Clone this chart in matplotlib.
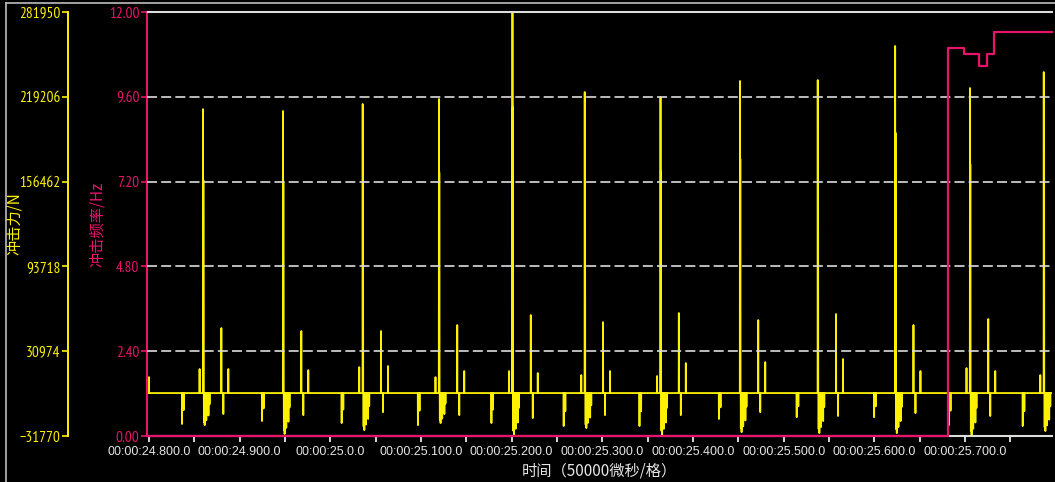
import numpy as np
import matplotlib.pyplot as plt
from matplotlib.lines import Line2D

# --- data ---
# impact frequency (Hz), step line
freq_t = [24.7978, 25.6810, 25.6990, 25.7154, 25.7240, 25.7320, 25.7960]
freq_v = [0.0, 10.99, 10.80, 10.48, 10.80, 11.44, 11.44]

# one entry per impact cycle: main peak time (s) and force values (N)
peak_t = [24.8596, 24.9478, 25.0357, 25.1198, 25.2009, 25.2806,
          25.3642, 25.4518, 25.5376, 25.6230, 25.7055, 25.7869]
peak_v = [210100, 208700, 213900, 217600, 281950, 222700,
          219000, 230900, 231600, 256800, 225700, 237500]
pre_dip = [-22900, -20700, -22200, -23700, -22200, -24400,
           -24400, -19200, -17800, -17800, -23700, -24400]
pre_spike = [17800, 0, 19200, 11800, 16300, 13300,
             12600, 0, 0, 0, 18500, 13300]
post_dip = [-23700, -30300, -27400, -22200, -31100, -25900,
            -31100, -28900, -29600, -29600, -31100, -28100]
spike2 = [48100, 45900, 45900, 50300, 57700, 52500,
          59200, 54000, 58500, 50300, 54800, 0]
dip2 = [-15500, -16300, -14100, -16300, -18500, -16300,
        -16300, -14100, -17000, -14800, -17000, 0]
spike3 = [17800, 17000, 20000, 16300, 14800, 16300,
          22200, 22900, 25200, 16300, 16300, 0]
lead_t, lead_v = 24.8000, 11800   # tail of the cycle before the window

# offsets inside a cycle (s) and shape of the dip clusters
off_pre_dip = [(-0.0232, 1.0), (-0.0214, 0.55)]
off_pre_spike = -0.0038
off_main2 = (0.0004, 0.75)
off_post = [(0.0010, 0.9), (0.0018, 1.0), (0.0027, 0.7), (0.0036, 0.85),
            (0.0048, 0.55), (0.0060, 0.7), (0.0072, 0.35)]
off_spike2 = 0.0202
off_dip2 = 0.0224
off_spike3 = 0.0279

force_ticks = [-31770, 30974, 93718, 156462, 219206, 281950]
freq_ticks = [0.0, 2.4, 4.8, 7.2, 9.6, 12.0]
x_major = [24.8, 24.9, 25.0, 25.1, 25.2, 25.3, 25.4, 25.5, 25.6, 25.7]
x_minor = [24.85, 24.95, 25.05, 25.15, 25.25, 25.35, 25.45, 25.55, 25.65, 25.75]
x_labels = ["00:00:24.800.0", "00:00:24.900.0", "00:00:25.0.0", "00:00:25.100.0",
            "00:00:25.200.0", "00:00:25.300.0", "00:00:25.400.0", "00:00:25.500.0",
            "00:00:25.600.0", "00:00:25.700.0"]
x_min, x_max = 24.7978, 25.7960

# --- build the force trace from the events ---
events = [(lead_t, lead_v)]
for i in range(len(peak_t)):
    t0 = peak_t[i]
    events.append((t0, peak_v[i]))
    events.append((t0 + off_main2[0], peak_v[i] * off_main2[1]))
    for o, f in off_pre_dip:
        events.append((t0 + o, pre_dip[i] * f))
    if pre_spike[i]:
        events.append((t0 + off_pre_spike, pre_spike[i]))
    for o, f in off_post:
        events.append((t0 + o, post_dip[i] * f))
    if spike2[i]:
        events.append((t0 + off_spike2, spike2[i]))
    if dip2[i]:
        events.append((t0 + off_dip2, dip2[i]))
    if spike3[i]:
        events.append((t0 + off_spike3, spike3[i]))
events.sort()

w = 0.00015
sig_t = [x_min]
sig_v = [0]
for t, v in events:
    if t < x_min or t > x_max:
        continue
    sig_t += [t - w, t, t + w]
    sig_v += [0, v, 0]
sig_t.append(x_max)
sig_v.append(0)

# --- drawing ---
magenta = '#E8146C'
yellow = '#FFF200'
grey = '#dcdcdc'
num_font = ['PT Sans Narrow', 'Archivo Narrow', 'Roboto Condensed', 'Liberation Sans']
cjk_font = ['Noto Sans CJK SC', 'DejaVu Sans']

fig = plt.figure(figsize=(10.55, 4.82), dpi=100, facecolor='black')
ax = fig.add_axes([147 / 1055, 46 / 482, 905 / 1055, 424 / 482])
ax2 = ax.twinx()
ax.set_zorder(ax2.get_zorder() + 1)
ax.patch.set_visible(False)

# force trace
ax2.plot(sig_t, sig_v, color=yellow, lw=1.3)
ax2.set_ylim(-31770, 281950)
ax2.yaxis.set_ticks_position('left')
ax2.yaxis.set_label_position('left')
ax2.set_yticks(force_ticks)
ax2.set_yticklabels([str(v).replace('-', '\u2212') for v in force_ticks])
for s in ['top', 'bottom', 'right']:
    ax2.spines[s].set_visible(False)
ax2.spines['left'].set_visible(True)
ax2.spines['left'].set_position(('axes', -79 / 905))
ax2.spines['left'].set_color(yellow)
ax2.spines['left'].set_linewidth(1.4)
ax2.tick_params(axis='y', colors=yellow, length=4.5, width=1.2, pad=1,
                labelsize=11, labelfontfamily=num_font)
ax2.set_ylabel("冲击力/N", color=yellow, fontsize=11, family=cjk_font)
ax2.yaxis.label.set_va('center')
ax2.yaxis.label.set_ha('center')
ax2.yaxis.set_label_coords(-133 / 905, 0.5)

# frequency axis
ax.step(freq_t, freq_v, where='post', color=magenta, lw=1.6, clip_on=False, zorder=5)
ax.set_ylim(0, 12)
ax.set_yticks(freq_ticks)
ax.set_yticklabels([f"{v:.2f}" for v in freq_ticks])
ax.grid(axis='y', color=grey, ls=(0, (6, 2.5)), lw=1.2, zorder=4)
ax.set_axisbelow(False)
ax.tick_params(axis='y', colors=magenta, length=4.5, width=1.2, pad=1,
               labelsize=11, labelfontfamily=num_font)
ax.set_ylabel("冲击频率/Hz", color=magenta, fontsize=11, family=cjk_font)
ax.yaxis.label.set_va('center')
ax.yaxis.label.set_ha('center')
ax.yaxis.set_label_coords(-50 / 905, 0.5)

ax.set_xlim(x_min, x_max)
ax.set_xticks(x_major)
ax.set_xticklabels(x_labels)
ax.set_xticks(x_minor, minor=True)
ax.tick_params(axis='x', which='both', colors='#e6e6e6', length=4, width=1.3, pad=3,
               labelsize=9, labelfontfamily=['Liberation Sans', 'DejaVu Sans'])
ax.set_xlabel("时间（50000微秒/格）", color='#e6e6e6', fontsize=11, family=cjk_font)
ax.xaxis.label.set_va('center')
ax.xaxis.set_label_coords(0.5, -35 / 424)

ax.spines['right'].set_visible(False)
ax.spines['left'].set_color(magenta)
ax.spines['left'].set_linewidth(1.5)
for s in ['top', 'bottom']:
    ax.spines[s].set_color(grey)
    ax.spines[s].set_linewidth(1.5)

# outer frame lines
fig.add_artist(Line2D([6 / 1055, 6 / 1055], [0, 479 / 482], transform=fig.transFigure,
                      color='#bdbdbd', lw=1.2))
fig.add_artist(Line2D([6 / 1055, 1], [479 / 482, 479 / 482], transform=fig.transFigure,
                      color='#bdbdbd', lw=1.2))

fig.savefig('out.png', dpi=100, facecolor='black')
